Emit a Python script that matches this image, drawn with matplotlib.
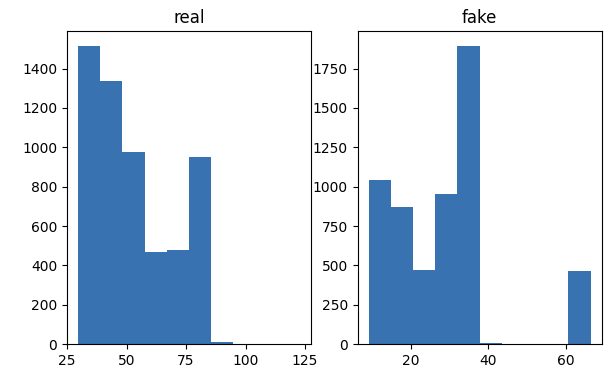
import numpy as np
import matplotlib
matplotlib.use("Agg")
import matplotlib.pyplot as plt

# histogram counts (10 bins each)
real_min, real_max = 29.6, 122.9
real_counts = [1516, 1335, 974, 468, 477, 952, 10, 2, 1, 1]

fake_min, fake_max = 9.1, 66.4
fake_counts = [1042, 868, 472, 955, 1895, 8, 0, 0, 0, 465]

bar_color = "#3872b0"

fig, (ax1, ax2) = plt.subplots(1, 2, figsize=(6.09, 3.72), dpi=100)
fig.subplots_adjust(left=0.11, right=0.988, top=0.917, bottom=0.075, wspace=0.19)

for ax, lo, hi, counts, title in [(ax1, real_min, real_max, real_counts, "real"),
                                  (ax2, fake_min, fake_max, fake_counts, "fake")]:
    edges = np.linspace(lo, hi, len(counts) + 1)
    centers = (edges[:-1] + edges[1:]) / 2
    ax.hist(centers, bins=edges, weights=counts, color=bar_color)
    ax.set_title(title)

ax1.set_xticks([25, 50, 75, 100, 125])
ax2.set_xticks([20, 40, 60])

plt.savefig("out.png")
